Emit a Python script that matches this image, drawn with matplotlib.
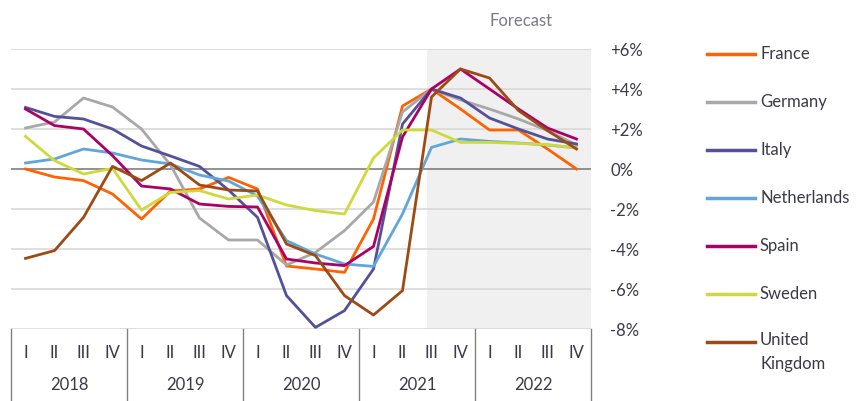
import matplotlib.pyplot as plt
from matplotlib.lines import Line2D

plt.rcParams["font.family"] = ["Lato", "DejaVu Sans"]

years = ["2018", "2019", "2020", "2021", "2022"]
quarters = ["I", "II", "III", "IV"]

countries = ["France", "Germany", "Italy", "Netherlands", "Spain", "Sweden", "United\nKingdom"]
colors = ["#FF6200", "#A8A8A8", "#525199", "#60A6DA", "#AB0066", "#D0D93C", "#9D4A14"]

france = [0.0, -0.4, -0.58, -1.25, -2.5, -1.1, -1.0, -0.42, -1.0, -4.85,
          -5.0, -5.17, -2.5, 3.15, 4.0, 3.0, 1.95, 1.95, 1.0, 0.0]
germany = [2.05, 2.35, 3.55, 3.1, 2.0, 0.2, -2.45, -3.55, -3.55, -4.8,
           -4.17, -3.08, -1.65, 2.85, 4.0, 3.45, 3.0, 2.5, 1.92, 1.2]
italy = [3.08, 2.63, 2.5, 2.0, 1.15, 0.65, 0.13, -1.05, -2.42, -6.33,
         -7.92, -7.08, -5.0, 2.25, 4.0, 3.55, 2.55, 2.0, 1.5, 1.25]
netherlands = [0.3, 0.5, 1.0, 0.8, 0.45, 0.25, -0.3, -0.6, -1.35, -3.58,
               -4.25, -4.75, -4.87, -2.25, 1.08, 1.5, 1.38, 1.3, 1.2, 1.05]
spain = [3.0, 2.17, 2.0, 0.67, -0.85, -1.0, -1.75, -1.87, -1.9, -4.5,
         -4.7, -4.83, -3.87, 1.6, 4.0, 5.0, 4.0, 3.0, 2.05, 1.5]
sweden = [1.63, 0.42, -0.25, 0.03, -2.05, -1.17, -1.08, -1.5, -1.3, -1.8,
          -2.08, -2.25, 0.55, 1.95, 1.95, 1.33, 1.33, 1.28, 1.22, 1.05]
uk = [-4.47, -4.08, -2.42, 0.13, -0.58, 0.3, -0.8, -1.05, -1.1, -3.75,
      -4.33, -6.33, -7.3, -6.08, 3.6, 5.0, 4.55, 2.92, 1.92, 1.0]

series = [france, germany, italy, netherlands, spain, sweden, uk]
forecast_start = 13.83  # forecast shading begins just before 2021 Q3

text_color = "#3A3A48"
font_size = 12

fig = plt.figure(figsize=(8.59, 4.01), dpi=100)
ax = fig.add_axes([11 / 859, 1 - 329 / 401, 580 / 859, 280 / 401])

x = list(range(len(france)))
ax.axvspan(forecast_start, 19.5, color="#F0F0F0", zorder=0, lw=0)

for y in [-8, -6, -4, -2, 2, 4, 6]:
    ax.axhline(y, color="#D9D9D9", lw=1.2, zorder=1)
ax.axhline(0, color="#7F7F7F", lw=1.2, zorder=1)

for values, color in zip(series, colors):
    ax.plot(x, values, color=color, lw=2, zorder=3)

ax.set_xlim(-0.5, 19.5)
ax.set_ylim(-8, 6)
ax.set_yticks([-8, -6, -4, -2, 0, 2, 4, 6])
ax.set_yticklabels(["-8%", "-6%", "-4%", "-2%", "0%", "+2%", "+4%", "+6%"])
ax.yaxis.tick_right()
ax.tick_params(axis="y", length=0, pad=14, labelsize=font_size, labelcolor=text_color)
ax.set_xticks([])
for side in ["top", "bottom", "left", "right"]:
    ax.spines[side].set_visible(False)

# quarter / year category axis below the plot
trans = ax.get_xaxis_transform()
for k in range(len(years) + 1):
    ax.plot([k * 4 - 0.5, k * 4 - 0.5], [0, -0.26], transform=trans,
            color="#808080", lw=1, clip_on=False)
for k, year in enumerate(years):
    for q, label in enumerate(quarters):
        ax.text(k * 4 + q, -0.085, label, transform=trans, ha="center", va="center",
                fontsize=font_size, color=text_color)
    ax.text(k * 4 + 1.5, -0.2, year, transform=trans, ha="center", va="center",
            fontsize=font_size, color=text_color)

ax.text(17.1, 1.1, "Forecast", transform=trans, ha="center", va="center",
        fontsize=font_size, color="#7A7A88")

# legend on the right, one row every 48 px
for n, (name, color) in enumerate(zip(countries, colors)):
    y_pos = 1 - (54 + 48 * n) / 401
    fig.add_artist(Line2D([707 / 859, 755 / 859], [y_pos, y_pos], color=color, lw=2.5,
                          transform=fig.transFigure))
    if "\n" in name:
        fig.text(760 / 859, y_pos + 10 / 401, name, ha="left", va="top",
                 fontsize=font_size, color=text_color, linespacing=1.65)
    else:
        fig.text(760 / 859, y_pos, name, ha="left", va="center",
                 fontsize=font_size, color=text_color)

fig.savefig("out.png", dpi=100)
